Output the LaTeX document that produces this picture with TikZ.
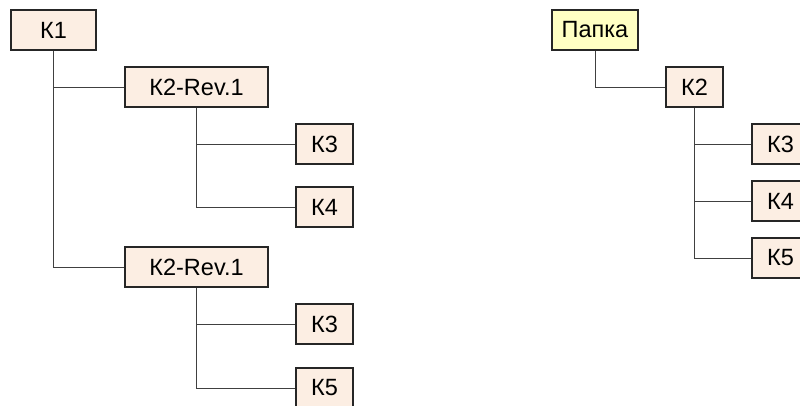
\documentclass[tikz,border=0pt]{standalone}
\usepackage{fontspec}
\setmainfont{Liberation Sans}
\begin{document}
\begin{tikzpicture}[x=1pt,y=-1pt,
  box/.style={draw=black!85,line width=1.2pt,fill=boxfill,inner sep=0pt,minimum height=40pt,font=\fontsize{23.5}{27}\selectfont},
  folder/.style={box,fill=folderfill},
  link/.style={draw=black!75,line width=1pt}]
\definecolor{boxfill}{HTML}{FCEEE3}
\definecolor{folderfill}{HTML}{FFFFC3}
\useasboundingbox (0,0) rectangle (800,405);
\clip (0,0) rectangle (800,405);
% left tree
\node[box,minimum width=85pt] (k1) at (53.5,30) {К1};
\node[box,minimum width=143pt] (k2a) at (196.5,87) {К2-Rev.1};
\node[box,minimum width=57pt] (k3a) at (324.5,144) {К3};
\node[box,minimum width=57pt] (k4a) at (324.5,207) {К4};
\node[box,minimum width=143pt] (k2b) at (196.5,267) {К2-Rev.1};
\node[box,minimum width=57pt] (k3b) at (324.5,324) {К3};
\node[box,minimum width=57pt] (k5b) at (324.5,388) {К5};
% right tree
\node[folder,minimum width=86pt] (p) at (595,30) {Папка};
\node[box,minimum width=57pt] (k2) at (694.5,87) {К2};
\node[box,minimum width=57pt] (k3) at (780.5,144) {К3};
\node[box,minimum width=57pt] (k4) at (780.5,201) {К4};
\node[box,minimum width=57pt] (k5) at (780.5,258) {К5};
% connectors
\path[link] (k1.south) -- (k1.south |- k2b.west) -- (k2b.west);
\path[link] (k1.south |- k2a.west) -- (k2a.west);
\path[link] (k2a.south) -- (k2a.south |- k4a.west) -- (k4a.west);
\path[link] (k2a.south |- k3a.west) -- (k3a.west);
\path[link] (k2b.south) -- (k2b.south |- k5b.west) -- (k5b.west);
\path[link] (k2b.south |- k3b.west) -- (k3b.west);
\path[link] (p.south) -- (p.south |- k2.west) -- (k2.west);
\path[link] (k2.south) -- (k2.south |- k5.west) -- (k5.west);
\path[link] (k2.south |- k3.west) -- (k3.west);
\path[link] (k2.south |- k4.west) -- (k4.west);
\end{tikzpicture}
\end{document}
